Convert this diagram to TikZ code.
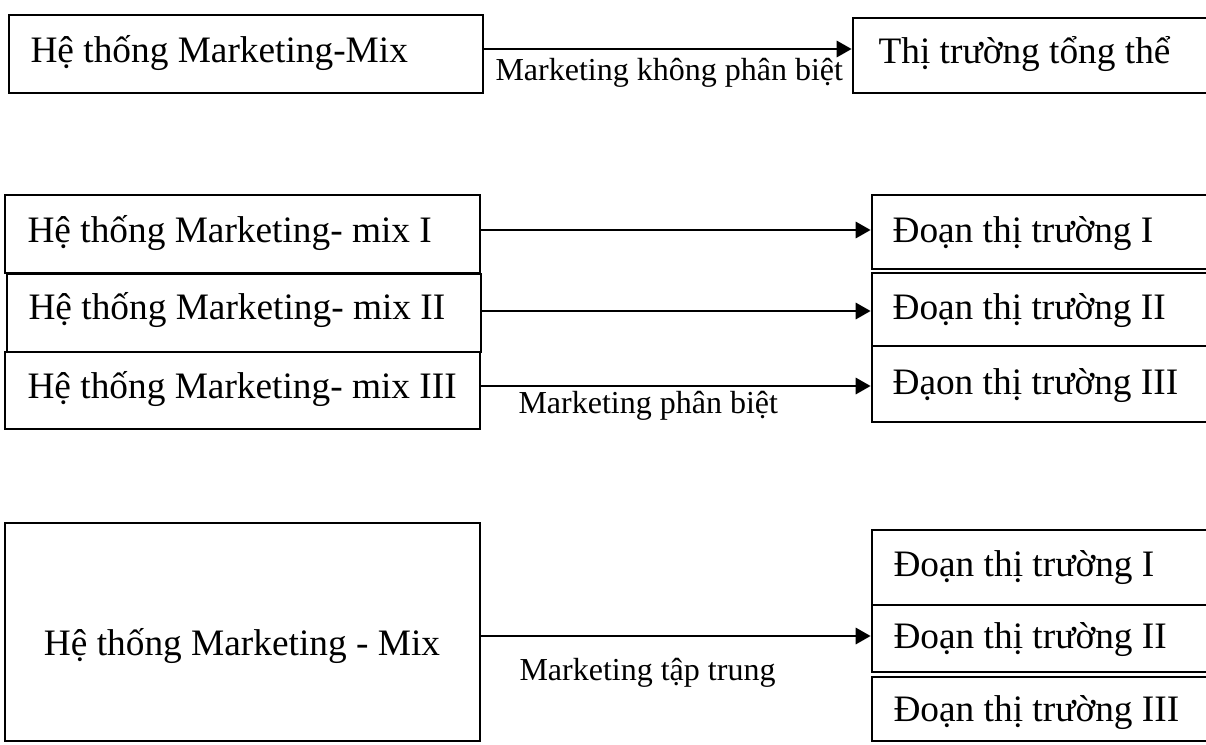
\documentclass[tikz,border=0pt]{standalone}
\usepackage{fontspec}
\setmainfont{Liberation Serif}
\usetikzlibrary{arrows.meta,fit,calc}
\begin{document}
\begin{tikzpicture}[x=0.375pt,y=-0.375pt,
  box/.style={draw, line width=0.75pt, inner sep=0pt, fit={#1}},
  seg/.style={draw, line width=1pt, inner sep=0pt, fit={#1}},
  txt/.style={font=\fontsize{14}{16}\selectfont, inner sep=0pt, anchor=base west},
  lbl/.style={font=\fontsize{12}{14}\selectfont, inner sep=0pt, anchor=base west},
  arr/.style={line width=1.1pt, -{Triangle[length=5.6pt,width=6pt]}}]
\useasboundingbox (0,0) rectangle (1206,744);
\clip (0,0) rectangle (1206,744);

% --- undifferentiated marketing ---
\node[box={(9,15)(483,93)}] (A1) {};
\node[seg={(853,18)(1250,93)}] (B1) {};
\node[txt] (tA1) at (30,62) {Hệ thống Marketing-Mix};
\node[txt] (tB1) at (878,63) {Thị trường tổng thể};
\draw[arr] ($(A1.east)+(0,-5)$) -- ($(B1.west)+(0,-6.5)$);
\node[lbl] (l1) at (495,80) {Marketing không phân biệt};

% --- differentiated marketing ---
\node[box={(5,195)(480,273)}] (L1) {};
\node[box={(7,274)(481,352)}] (L2) {};
\node[box={(5,352)(480,429)}] (L3) {};
\node[seg={(872,195)(1250,269)}] (R1) {};
\node[seg={(872,273)(1250,346)}] (R2) {};
\node[seg={(872,346)(1250,422)}] (R3) {};
\node[txt] (tL1) at (27,242) {Hệ thống Marketing- mix I};
\node[txt] (tL2) at (28,319) {Hệ thống Marketing- mix II};
\node[txt] (tL3) at (27,398) {Hệ thống Marketing- mix III};
\node[txt] (tR1) at (892,242) {Đoạn thị trường I};
\node[txt] (tR2) at (892,319) {Đoạn thị trường II};
\node[txt] (tR3) at (892,394) {Đạon thị trường III};
\draw[arr] ($(L1.east)+(0,-4)$) -- ($(R1.west)+(0,-2)$);
\draw[arr] ($(L2.east)+(0,-2)$) -- ($(R2.west)+(0,1.5)$);
\draw[arr] ($(L3.east)+(0,-4.5)$) -- ($(R3.west)+(0,2)$);
\node[lbl] (l2) at (518,413) {Marketing phân biệt};

% --- concentrated marketing ---
\node[box={(5,523)(480,741)}] (M) {};
\node[seg={(872,530)(1250,605)}] (S1) {};
\node[seg={(872,605)(1250,672)}] (S2) {};
\node[seg={(872,677)(1250,741)}] (S3) {};
\node[txt, anchor=base] (tM) at (242,655) {Hệ thống Marketing - Mix};
\node[txt] (tS1) at (893,576) {Đoạn thị trường I};
\node[txt] (tS2) at (893,648) {Đoạn thị trường II};
\node[txt] (tS3) at (893,721) {Đoạn thị trường III};
\draw[arr] ($(M.east)+(0,4)$) -- ($(S2.west)+(0,-2.5)$);
\node[lbl] (l3) at (519,680) {Marketing tập trung};
\end{tikzpicture}
\end{document}
